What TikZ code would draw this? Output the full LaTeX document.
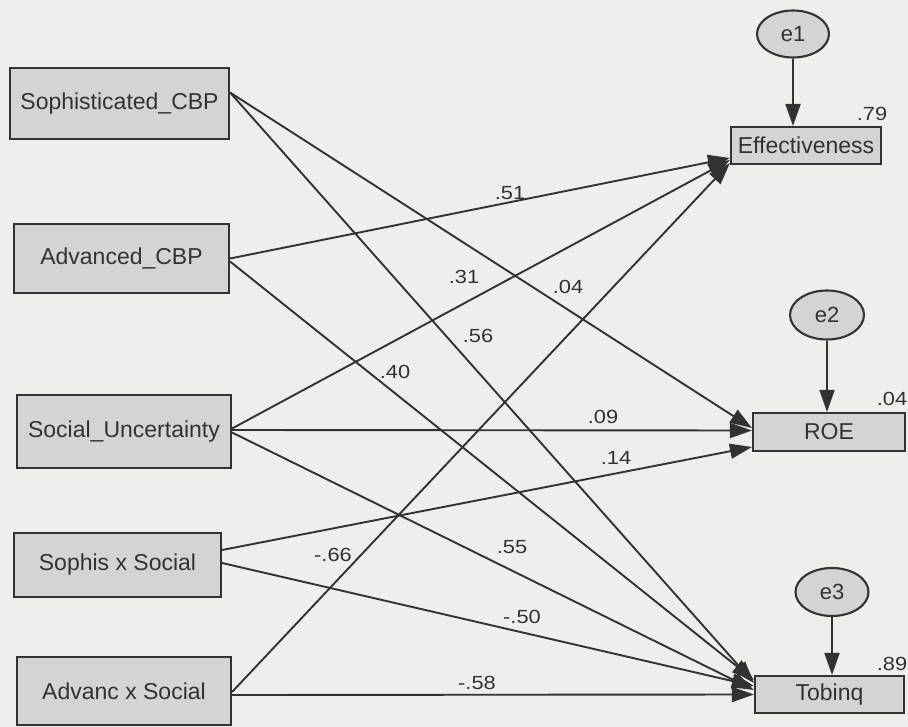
\documentclass[tikz,border=0pt]{standalone}
\usepackage{fontspec}
\setmainfont{Liberation Sans}
\newfontfamily\numfont[FakeStretch=1.15]{Liberation Sans}
\usetikzlibrary{arrows.meta,shapes.geometric,calc}
\definecolor{bg}{RGB}{238,238,236}
\definecolor{boxfill}{RGB}{212,212,212}
\definecolor{ink}{RGB}{50,50,50}
\begin{document}
\begin{tikzpicture}[x=1pt,y=-1pt,
  obs/.style={draw=ink,line width=2.1pt,fill=boxfill,rectangle,inner sep=0pt,text=ink,font=\fontsize{23}{26}\selectfont},
  err/.style={draw=ink,line width=2.1pt,fill=boxfill,ellipse,inner sep=0pt,text=ink,font=\fontsize{22}{26}\selectfont},
  conn/.style={draw=ink,line width=1.9pt,-{Triangle[length=22pt,width=15pt]}},
  coef/.style={text=ink,font=\numfont\fontsize{19}{22}\selectfont,inner sep=0pt}
]
\fill[bg] (0,0) rectangle (908,727);
\useasboundingbox (0,0) rectangle (908,727);

% exogenous boxes
\node[obs,minimum width=219pt,minimum height=71pt] (soph) at (119.5,103.5) {Sophisticated\_CBP};
\node[obs,minimum width=215pt,minimum height=69pt] (adv) at (121.5,258.5) {Advanced\_CBP};
\node[obs,minimum width=214pt,minimum height=73pt] (soc) at (124,431.5) {Social\_Uncertainty};
\node[obs,minimum width=207pt,minimum height=64pt] (sxs) at (117.5,565) {Sophis x Social};
\node[obs,minimum width=214pt,minimum height=68pt] (axs) at (124,691) {Advanc x Social};

% endogenous boxes
\node[obs,minimum width=150pt,minimum height=37pt] (eff) at (806,145.5) {Effectiveness};
\node[obs,minimum width=152pt,minimum height=38pt] (roe) at (829,432) {ROE};
\node[obs,minimum width=149pt,minimum height=37pt] (tob) at (829.5,694.5) {Tobinq};

% error terms
\node[err,minimum width=72pt,minimum height=47pt] (e1) at (793,34) {e1};
\node[err,minimum width=74pt,minimum height=49pt] (e2) at (827,315) {e2};
\node[err,minimum width=73pt,minimum height=48pt] (e3) at (832,592) {e3};

\draw[conn] (e1.south) -- (e1.south |- eff.north);
\draw[conn] (e2.south) -- (e2.south |- roe.north);
\draw[conn] (e3.south) -- (e3.south |- tob.north);

% paths
\draw[conn] ($(soph.east)+(0,-11)$) -- ($(roe.west)+(0,-4)$);
\draw[conn] ($(soph.east)+(0,-11)$) -- ($(tob.west)+(0,-11.5)$);
\draw[conn] ($(adv.east)+(0,0)$) -- ($(eff.west)+(0,12.5)$);
\draw[conn] ($(adv.east)+(0,3)$) -- ($(tob.west)+(0,-14.5)$);
\draw[conn] ($(soc.east)+(0,-3)$) -- ($(eff.west)+(0,14.5)$);
\draw[conn] ($(soc.east)+(0,-1.5)$) -- ($(roe.west)+(0,-1.5)$);
\draw[conn] ($(soc.east)+(0,1)$) -- ($(tob.west)+(0,-4.5)$);
\draw[conn] ($(sxs.east)+(0,-15)$) -- ($(roe.west)+(0,15)$);
\draw[conn] ($(sxs.east)+(0,-2)$) -- ($(tob.west)+(0,-8.5)$);
\draw[conn] ($(axs.east)+(0,1)$) -- ($(eff.west)+(0,17.5)$);
\draw[conn] ($(axs.east)+(0,4)$) -- ($(tob.west)+(0,0)$);

% coefficients
\node[coef] (c51) at (510,193) {.51};
\node[coef] (c31) at (464,277) {.31};
\node[coef] (c04) at (568,287) {.04};
\node[coef] (c56) at (478,336) {.56};
\node[coef] (c40) at (395,372) {.40};
\node[coef] (c09) at (603,417) {.09};
\node[coef] (c14) at (616,458) {.14};
\node[coef] (c55) at (512,547) {.55};
\node[coef] (c66) at (333,555) {-.66};
\node[coef] (c50) at (522,617) {-.50};
\node[coef] (c58) at (477,683) {-.58};

% squared multiple correlations
\node[coef] (r1) at (872,114) {.79};
\node[coef] (r2) at (892,399) {.04};
\node[coef] (r3) at (892,664) {.89};
\end{tikzpicture}
\end{document}
